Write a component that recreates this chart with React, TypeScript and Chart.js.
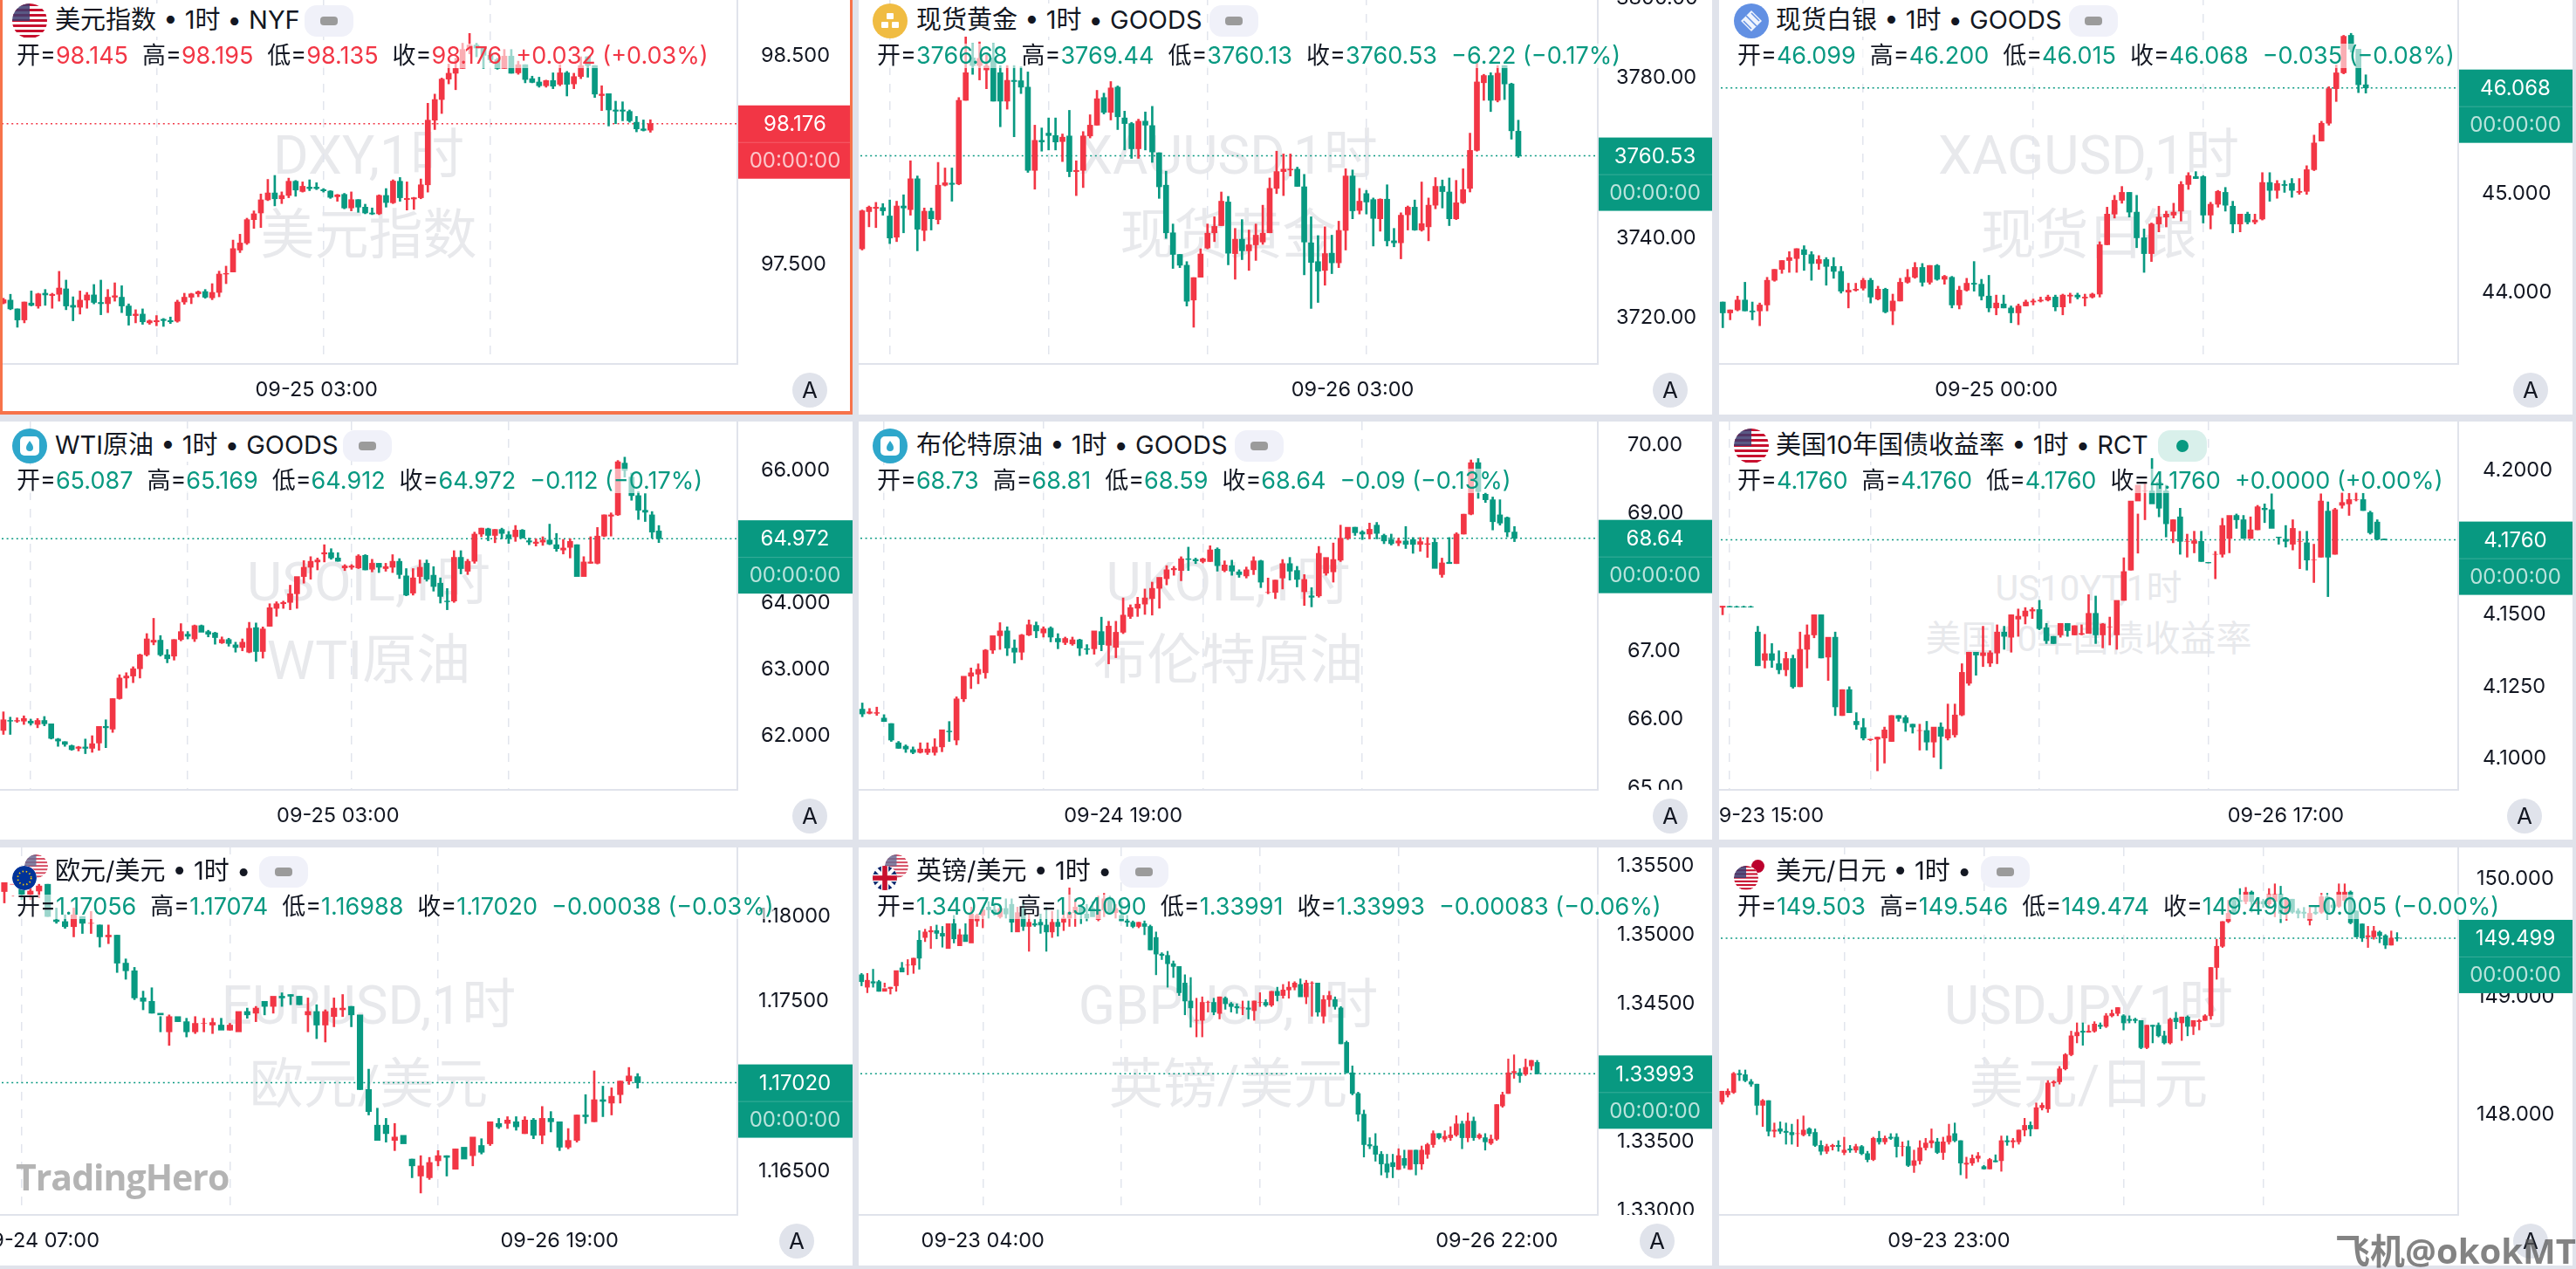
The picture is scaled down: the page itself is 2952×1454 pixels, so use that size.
import { useEffect, useRef } from 'react';
import { Chart, registerables } from 'chart.js';
Chart.register(...registerables);

// [open, high, low, close]
const dxyCandles = [[97.316,97.339,97.312,97.332],[97.330,97.358,97.284,97.288],[97.288,97.288,97.200,97.235],[97.235,97.321,97.221,97.321],[97.316,97.374,97.302,97.305],[97.302,97.363,97.291,97.360],[97.363,97.381,97.305,97.355],[97.352,97.363,97.291,97.358],[97.358,97.468,97.325,97.388],[97.384,97.426,97.284,97.302],[97.305,97.346,97.231,97.296],[97.296,97.374,97.263,97.330],[97.330,97.367,97.291,97.355],[97.355,97.405,97.312,97.319],[97.319,97.426,97.260,97.313],[97.313,97.381,97.270,97.344],[97.344,97.413,97.325,97.351],[97.344,97.399,97.270,97.302],[97.302,97.312,97.210,97.256],[97.256,97.284,97.221,97.263],[97.263,97.288,97.214,97.226],[97.221,97.235,97.214,97.231],[97.226,97.256,97.207,97.232],[97.238,97.242,97.204,97.232],[97.232,97.249,97.218,97.226],[97.229,97.330,97.224,97.321],[97.321,97.363,97.310,97.344],[97.344,97.363,97.313,97.360],[97.360,97.374,97.346,97.370],[97.371,97.381,97.339,97.344],[97.341,97.409,97.332,97.367],[97.367,97.469,97.346,97.455],[97.455,97.493,97.409,97.458],[97.465,97.618,97.465,97.577],[97.570,97.646,97.558,97.604],[97.604,97.723,97.597,97.716],[97.716,97.758,97.674,97.744],[97.748,97.839,97.678,97.811],[97.811,97.909,97.807,97.844],[97.844,97.928,97.782,97.816],[97.816,97.849,97.793,97.832],[97.832,97.915,97.821,97.900],[97.900,97.904,97.828,97.858],[97.851,97.897,97.848,97.876],[97.872,97.907,97.855,97.865],[97.872,97.893,97.860,97.865],[97.860,97.865,97.848,97.854],[97.853,97.855,97.818,97.823],[97.826,97.837,97.804,97.835],[97.837,97.842,97.768,97.772],[97.772,97.849,97.758,97.812],[97.812,97.812,97.751,97.776],[97.776,97.790,97.744,97.748],[97.748,97.772,97.740,97.743],[97.744,97.835,97.740,97.832],[97.832,97.865,97.776,97.798],[97.797,97.907,97.793,97.901],[97.900,97.918,97.804,97.821],[97.812,97.897,97.762,97.818],[97.815,97.823,97.765,97.821],[97.821,97.911,97.816,97.883],[97.883,98.274,97.848,98.193],[98.193,98.318,98.148,98.292],[98.292,98.395,98.225,98.390],[98.390,98.462,98.367,98.418],[98.418,98.490,98.339,98.441],[98.441,98.560,98.441,98.532],[98.532,98.609,98.511,98.553],[98.553,98.560,98.497,98.539],[98.539,98.546,98.441,98.504],[98.504,98.525,98.469,98.483],[98.483,98.490,98.437,98.441],[98.441,98.532,98.441,98.500],[98.500,98.532,98.418,98.418],[98.420,98.476,98.413,98.459],[98.459,98.459,98.372,98.388],[98.392,98.404,98.372,98.374],[98.376,98.399,98.351,98.358],[98.358,98.385,98.351,98.383],[98.383,98.420,98.344,98.356],[98.365,98.459,98.358,98.420],[98.420,98.427,98.309,98.365],[98.367,98.418,98.344,98.402],[98.402,98.497,98.392,98.455],[98.497,98.497,98.399,98.455],[98.455,98.455,98.302,98.318],[98.311,98.358,98.239,98.318],[98.320,98.320,98.165,98.242],[98.242,98.284,98.176,98.236],[98.242,98.281,98.190,98.236],[98.235,98.242,98.183,98.190],[98.183,98.211,98.137,98.151],[98.151,98.194,98.141,98.144],[98.145,98.195,98.135,98.176]];

const goldCandles = [[3737.3,3747,3737,3746.8],[3746.6,3748,3742.8,3747.7],[3747.4,3748.9,3742.6,3747.7],[3747.6,3748.6,3745.7,3746.8],[3745.5,3749.5,3738.6,3740],[3740.2,3749.2,3739.1,3748],[3748,3750.8,3741.3,3747.5],[3747.1,3759.3,3745.7,3754.8],[3754.8,3755.5,3736.8,3742.2],[3741.9,3747.5,3739.3,3746.7],[3746.7,3747.5,3742,3744.8],[3744.6,3758.9,3743.5,3753.2],[3753.2,3757.5,3753,3753.8],[3753.7,3757.5,3749.2,3753.4],[3753.5,3775.1,3753.3,3774.4],[3774.4,3791.1,3774.4,3781.3],[3785,3788.6,3780.9,3783.1],[3783.1,3789,3779.5,3784.9],[3782,3785.7,3777.3,3783],[3785,3788.6,3774.2,3774.2],[3781.3,3783.1,3767.8,3774.2],[3774.2,3783.1,3772.2,3779.4],[3779.4,3783.1,3765.3,3779.1],[3779.3,3782.8,3776.1,3777.7],[3777.7,3781.5,3756.4,3756.9],[3756.9,3768.2,3752.2,3764.4],[3764.4,3767.5,3761.7,3764],[3766.2,3770,3762,3765.6],[3765.6,3770,3762,3764],[3764.1,3766,3759.1,3765.2],[3765.5,3771.9,3755.3,3756.6],[3756.6,3759.3,3750.6,3756.9],[3756.9,3766.6,3752.6,3765.5],[3765.5,3770.8,3765,3768.2],[3768.2,3776.9,3768.2,3774.8],[3775.1,3776.2,3771,3771.4],[3771.4,3779.1,3769.5,3777.5],[3777.7,3778,3767.1,3770.3],[3770,3771.7,3762,3768.6],[3768.6,3768.9,3759.9,3762.3],[3762.3,3769.7,3759.9,3769.2],[3769.2,3771.5,3762,3768.2],[3768.1,3772.9,3758.9,3761.5],[3761.3,3761.3,3749.9,3752.8],[3753.2,3756.7,3739.9,3741.3],[3741.3,3743.5,3732.4,3735.9],[3735.9,3735.9,3732.6,3733.2],[3733.2,3734.1,3723,3724.2],[3724.5,3730.1,3717.7,3730.1],[3730.2,3737.3,3730.2,3736],[3737.5,3743.5,3737.3,3741.2],[3741.3,3745.3,3739.1,3742.9],[3743.1,3751.5,3743.1,3749.2],[3749,3750.4,3733.3,3736.2],[3736.1,3742.4,3729.7,3739.7],[3739.7,3744.6,3734.6,3736.8],[3736.8,3742,3731.9,3738.3],[3738.3,3743.5,3734.4,3740.7],[3739,3748.2,3738.4,3741.2],[3741.3,3755,3741.3,3752.4],[3752.4,3761.7,3751.1,3756.6],[3756.6,3761,3750.6,3757.2],[3757,3761,3755.5,3757.2],[3757.2,3757.7,3752.9,3752.9],[3752.8,3755.9,3730.8,3739],[3738.8,3745.3,3722.4,3733.9],[3734.1,3740.6,3723.9,3731.7],[3731.9,3742.8,3728.2,3736.1],[3736.2,3740.7,3731.1,3733.8],[3733.8,3744.2,3732.6,3741.9],[3741.9,3757.3,3737,3755.5],[3755.5,3757,3744.8,3746.8],[3746.9,3752.4,3746,3749.2],[3751.1,3751.9,3746,3749],[3749.6,3750,3738,3744.9],[3744.8,3749.8,3741.7,3749.7],[3749.7,3753.3,3738,3739.3],[3739.3,3742.4,3737.8,3738.8],[3738.8,3746.3,3734.8,3745.7],[3745.8,3748,3742,3747.7],[3747.7,3749.5,3741.9,3742],[3742,3754,3741.7,3743.6],[3742.8,3750,3739.3,3748.2],[3748.2,3755.1,3747.3,3752.9],[3752.9,3754.5,3747.5,3751.6],[3751.5,3755,3743.1,3744.8],[3744.8,3754.4,3744.6,3748.8],[3748.8,3757.3,3748.6,3752.1],[3752.4,3766.2,3751.5,3761.9],[3761.9,3783.8,3761.7,3779],[3778.8,3780.9,3774.4,3780.6],[3780.6,3781.3,3771.6,3774.4],[3774.4,3783.1,3774,3781.2],[3783.1,3783.1,3774.6,3778.5],[3778.5,3778.7,3764.7,3766.8],[3766.68,3769.44,3760.13,3760.53]];

const silverCandles = [[43.90,43.90,43.64,43.79],[43.79,43.82,43.72,43.82],[43.82,43.96,43.81,43.92],[43.92,44.10,43.81,43.81],[43.81,43.90,43.72,43.80],[43.81,43.89,43.66,43.87],[43.87,44.15,43.81,44.12],[44.12,44.23,44.11,44.23],[44.23,44.32,44.19,44.32],[44.32,44.41,44.20,44.35],[44.34,44.44,44.20,44.44],[44.43,44.47,44.22,44.38],[44.38,44.41,44.12,44.29],[44.29,44.37,44.23,44.33],[44.33,44.35,44.07,44.26],[44.26,44.35,44.14,44.21],[44.21,44.26,43.99,44.01],[44.00,44.09,43.84,44.02],[44.02,44.09,44.01,44.03],[44.04,44.14,44.02,44.12],[44.12,44.14,43.89,43.95],[43.93,44.06,43.92,44.03],[44.03,44.04,43.79,43.80],[43.81,43.98,43.67,43.91],[43.91,44.14,43.91,44.10],[44.10,44.23,44.09,44.15],[44.15,44.30,44.14,44.25],[44.25,44.29,44.06,44.10],[44.10,44.27,44.08,44.27],[44.27,44.28,44.12,44.13],[44.13,44.17,44.08,44.16],[44.15,44.16,43.84,43.87],[43.87,44.06,43.83,44.02],[44.02,44.14,44.01,44.09],[44.09,44.31,44.01,44.08],[44.08,44.13,43.92,43.96],[43.96,44.17,43.80,43.84],[43.84,43.97,43.77,43.89],[43.88,43.97,43.84,43.84],[43.84,43.86,43.69,43.79],[43.79,43.88,43.67,43.86],[43.86,43.92,43.86,43.90],[43.90,43.93,43.87,43.91],[43.91,43.95,43.90,43.92],[43.92,43.97,43.91,43.95],[43.95,43.97,43.81,43.85],[43.85,43.98,43.77,43.97],[43.96,43.99,43.89,43.97],[43.97,43.99,43.93,43.95],[43.94,43.98,43.86,43.95],[43.95,43.99,43.94,43.98],[43.98,44.51,43.95,44.48],[44.48,44.86,44.48,44.79],[44.79,44.98,44.75,44.93],[44.93,45.07,44.90,45.01],[45.01,45.01,44.76,44.81],[44.81,44.98,44.45,44.55],[44.55,44.64,44.20,44.39],[44.39,44.70,44.31,44.69],[44.69,44.87,44.61,44.76],[44.76,44.82,44.66,44.79],[44.78,44.90,44.75,44.81],[44.82,45.12,44.72,45.09],[45.09,45.21,45.04,45.18],[45.17,45.22,45.15,45.15],[45.17,45.18,44.70,44.78],[44.78,44.91,44.64,44.89],[44.89,45.03,44.86,45.02],[45.01,45.06,44.82,44.88],[44.87,44.92,44.60,44.69],[44.69,44.79,44.61,44.79],[44.79,44.81,44.69,44.71],[44.71,44.79,44.69,44.73],[44.74,45.21,44.73,45.11],[45.11,45.21,44.92,45.03],[45.03,45.13,44.95,45.10],[45.09,45.13,45.01,45.08],[45.10,45.15,44.96,45.03],[45.01,45.15,44.99,45.02],[45.02,45.28,44.99,45.24],[45.24,45.59,45.23,45.51],[45.53,45.73,45.53,45.71],[45.71,46.08,45.69,46.06],[46.06,46.30,45.93,46.22],[46.22,46.60,46.21,46.59],[46.60,46.62,46.43,46.46],[46.46,46.46,46.02,46.10],[46.099,46.200,46.015,46.068]];

const wtiCandles = [[62.08,62.36,62.02,62.24],[62.23,62.28,62.02,62.22],[62.22,62.27,62.20,62.23],[62.22,62.30,62.17,62.26],[62.22,62.25,62.16,62.19],[62.17,62.26,62.12,62.23],[62.23,62.29,62.15,62.18],[62.18,62.18,61.95,61.96],[61.95,61.96,61.84,61.92],[61.91,61.91,61.84,61.87],[61.85,61.86,61.78,61.79],[61.81,61.84,61.77,61.83],[61.83,61.95,61.73,61.81],[61.81,62.00,61.75,61.88],[61.89,62.12,61.78,62.14],[62.14,62.24,61.82,62.12],[62.10,62.56,62.05,62.56],[62.56,62.92,62.55,62.87],[62.87,62.95,62.72,62.90],[62.90,63.04,62.80,63.01],[63.01,63.23,62.87,63.22],[63.22,63.54,63.20,63.46],[63.41,63.77,63.37,63.44],[63.44,63.51,63.20,63.22],[63.22,63.30,63.10,63.16],[63.20,63.45,63.14,63.45],[63.45,63.69,63.43,63.57],[63.53,63.57,63.46,63.50],[63.46,63.67,63.42,63.66],[63.66,63.67,63.60,63.56],[63.57,63.59,63.49,63.53],[63.55,63.56,63.38,63.48],[63.40,63.49,63.39,63.45],[63.45,63.47,63.35,63.39],[63.37,63.41,63.26,63.33],[63.33,63.46,63.28,63.41],[63.26,63.71,63.25,63.62],[63.63,63.70,63.12,63.27],[63.27,63.64,63.17,63.61],[63.65,63.99,63.65,63.93],[63.92,64.02,63.80,63.99],[63.99,64.03,63.92,64.01],[64.01,64.27,63.90,64.14],[64.14,64.32,63.92,64.40],[64.40,64.64,64.30,64.54],[64.54,64.70,64.36,64.63],[64.62,64.68,64.50,64.65],[64.74,64.88,64.62,64.76],[64.76,64.82,64.66,64.68],[64.68,64.76,64.63,64.63],[64.53,64.58,64.49,64.56],[64.54,64.58,64.51,64.56],[64.53,64.73,64.52,64.71],[64.72,64.73,64.50,64.50],[64.51,64.66,64.47,64.60],[64.60,64.60,64.46,64.54],[64.52,64.60,64.48,64.55],[64.54,64.73,64.46,64.63],[64.63,64.67,64.37,64.43],[64.41,64.52,64.11,64.12],[64.15,64.52,64.12,64.38],[64.40,64.65,64.30,64.54],[64.60,64.65,64.33,64.36],[64.42,64.55,64.18,64.25],[64.30,64.38,64.00,64.10],[64.03,64.22,63.90,64.02],[64.03,64.79,64.01,64.69],[64.69,64.79,64.44,64.52],[64.48,64.66,64.43,64.63],[64.63,65.07,64.60,65.04],[65.04,65.13,65.00,65.13],[65.12,65.13,64.94,65.02],[65.02,65.11,64.91,65.11],[65.11,65.13,64.97,65.05],[65.03,65.08,64.90,64.98],[65.00,65.17,64.93,65.10],[65.10,65.11,64.99,64.98],[64.94,64.98,64.88,64.92],[64.90,64.97,64.86,64.92],[64.92,65.00,64.87,64.95],[64.95,65.19,64.88,64.89],[64.88,65.05,64.78,64.82],[64.80,64.96,64.74,64.83],[64.84,64.97,64.68,64.93],[64.88,64.88,64.52,64.40],[64.40,64.70,64.41,64.62],[64.60,65.00,64.60,64.62],[64.60,65.14,64.59,65.01],[65.01,65.33,65.00,65.33],[65.31,65.36,65.01,65.33],[65.33,66.15,65.32,66.13],[66.11,66.20,65.90,66.00],[65.90,65.96,65.55,65.62],[65.62,65.68,65.26,65.40],[65.40,65.65,65.23,65.37],[65.33,65.38,64.98,65.07],[65.087,65.169,64.912,64.972]];

const brentCandles = [[66.15,66.24,66.04,66.08],[66.09,66.16,66.08,66.11],[66.09,66.18,66.06,66.10],[66.02,66.07,65.97,65.97],[65.94,65.94,65.68,65.70],[65.66,65.68,65.58,65.58],[65.61,65.63,65.52,65.57],[65.56,65.60,65.50,65.52],[65.52,65.66,65.51,65.57],[65.52,65.66,65.49,65.57],[65.52,65.72,65.48,65.60],[65.60,65.84,65.53,65.85],[65.83,65.97,65.68,65.82],[65.70,66.33,65.63,66.30],[66.30,66.55,66.26,66.63],[66.63,66.75,66.45,66.68],[66.66,66.81,66.52,66.73],[66.68,67.02,66.60,67.01],[67.01,67.21,66.96,67.22],[67.22,67.41,67.02,67.29],[67.29,67.35,66.93,67.04],[67.04,67.16,66.82,66.98],[66.98,67.24,66.87,67.23],[67.23,67.45,67.22,67.38],[67.37,67.42,67.19,67.29],[67.26,67.35,67.20,67.32],[67.33,67.35,67.13,67.20],[67.18,67.25,67.03,67.13],[67.12,67.20,67.09,67.18],[67.10,67.20,67.08,67.16],[67.16,67.17,66.93,67.04],[67.03,67.09,66.95,67.02],[67.03,67.23,66.95,67.29],[67.28,67.49,67.00,67.09],[67.08,67.43,66.81,67.36],[67.05,67.43,66.90,67.27],[67.27,67.77,67.25,67.52],[67.50,67.67,67.47,67.63],[67.62,67.78,67.50,67.68],[67.68,67.90,67.53,67.77],[67.76,68.00,67.52,67.91],[67.91,68.05,67.62,68.07],[68.05,68.24,67.96,68.18],[68.18,68.23,68.10,68.20],[68.17,68.37,68.02,68.34],[68.34,68.51,68.17,68.33],[68.33,68.35,68.27,68.31],[68.30,68.35,68.28,68.34],[68.30,68.53,68.30,68.47],[68.48,68.50,68.16,68.24],[68.17,68.31,68.15,68.25],[68.24,68.32,68.10,68.16],[68.15,68.18,68.07,68.11],[68.09,68.22,68.06,68.18],[68.18,68.37,68.11,68.31],[68.31,68.32,67.92,68.00],[67.85,68.06,67.83,67.85],[67.85,68.03,67.76,68.03],[68.06,68.33,67.90,68.27],[68.27,68.36,68.03,68.16],[68.17,68.23,67.93,68.04],[67.86,68.11,67.66,68.04],[67.80,67.92,67.64,67.78],[67.80,68.52,67.78,68.42],[68.13,68.34,68.10,68.36],[68.15,68.57,68.00,68.33],[68.32,68.83,68.30,68.64],[68.64,68.78,68.62,68.80],[68.80,68.80,68.68,68.72],[68.73,68.75,68.62,68.70],[68.70,68.86,68.63,68.77],[68.83,68.87,68.63,68.71],[68.68,68.70,68.56,68.60],[68.62,68.70,68.54,68.56],[68.57,68.64,68.53,68.60],[68.60,68.81,68.49,68.55],[68.62,68.65,68.42,68.55],[68.55,68.65,68.45,68.59],[68.55,68.65,68.36,68.56],[68.58,68.64,68.22,68.20],[68.11,68.35,68.07,68.28],[68.29,68.65,68.29,68.27],[68.27,68.72,68.27,68.70],[68.70,68.99,68.70,68.99],[68.99,69.78,68.98,69.74],[69.74,69.80,69.22,69.32],[69.28,69.30,69.16,69.20],[69.20,69.24,68.76,68.88],[68.98,69.20,68.83,68.86],[68.94,68.95,68.66,68.73],[68.73,68.81,68.59,68.64]];

const us10yCandles = [[4.1526,4.1530,4.1500,4.1530],[4.1529,4.1530,4.1528,4.1527],[4.1528,4.1530,4.1526,4.1527],[4.1528,4.1530,4.1526,4.1527],[4.1528,4.1530,4.1526,4.1527],[4.1440,4.1460,4.1323,4.1323],[4.1342,4.1432,4.1315,4.1365],[4.1365,4.1400,4.1317,4.1342],[4.1330,4.1375,4.1295,4.1309],[4.1309,4.1370,4.1288,4.1348],[4.1348,4.1360,4.1245,4.1250],[4.1250,4.1440,4.1250,4.1380],[4.1380,4.1465,4.1315,4.1430],[4.1430,4.1500,4.1420,4.1500],[4.1500,4.1500,4.1350,4.1350],[4.1353,4.1420,4.1272,4.1422],[4.1422,4.1440,4.1150,4.1180],[4.1150,4.1240,4.1150,4.1240],[4.1240,4.1250,4.1160,4.1160],[4.1130,4.1160,4.1102,4.1118],[4.1108,4.1140,4.1065,4.1072],[4.1066,4.1068,4.1063,4.1068],[4.1068,4.1075,4.0958,4.1075],[4.1072,4.1110,4.0985,4.1100],[4.1060,4.1150,4.1060,4.1150],[4.1150,4.1150,4.1130,4.1140],[4.1143,4.1150,4.1095,4.1125],[4.1120,4.1120,4.1089,4.1110],[4.1098,4.1120,4.1030,4.1098],[4.1098,4.1130,4.1030,4.1058],[4.1058,4.1090,4.1005,4.1110],[4.1110,4.1125,4.0965,4.1078],[4.1072,4.1190,4.1065,4.1102],[4.1083,4.1190,4.1075,4.1152],[4.1152,4.1330,4.1149,4.1300],[4.1262,4.1370,4.1255,4.1370],[4.1370,4.1360,4.1290,4.1360],[4.1358,4.1460,4.1320,4.1368],[4.1332,4.1375,4.1320,4.1368],[4.1367,4.1465,4.1330,4.1440],[4.1440,4.1460,4.1380,4.1425],[4.1422,4.1500,4.1370,4.1500],[4.1485,4.1520,4.1425,4.1495],[4.1495,4.1525,4.1468,4.1513],[4.1513,4.1525,4.1487,4.1518],[4.1518,4.1550,4.1448,4.1452],[4.1455,4.1470,4.1400,4.1410],[4.1425,4.1425,4.1400,4.1400],[4.1430,4.1470,4.1422,4.1470],[4.1470,4.1470,4.1425,4.1445],[4.1430,4.1462,4.1430,4.1462],[4.1432,4.1465,4.1430,4.1435],[4.1435,4.1570,4.1440,4.1505],[4.1505,4.1565,4.1400,4.1430],[4.1430,4.1470,4.1385,4.1468],[4.1458,4.1492,4.1395,4.1458],[4.1430,4.1492,4.1380,4.1550],[4.1550,4.1698,4.1550,4.1650],[4.1655,4.1700,4.1655,4.1895],[4.1895,4.1850,4.1714,4.1950],[4.1930,4.1960,4.1830,4.1930],[4.1930,4.2043,4.1900,4.1885],[4.1960,4.1970,4.1840,4.1870],[4.1930,4.1950,4.1770,4.1816],[4.1790,4.1830,4.1750,4.1830],[4.1840,4.1870,4.1710,4.1755],[4.1755,4.1780,4.1700,4.1755],[4.1748,4.1790,4.1715,4.1757],[4.1755,4.1790,4.1685,4.1685],[4.1682,4.1680,4.1680,4.1680],[4.1710,4.1720,4.1625,4.1710],[4.1710,4.1835,4.1700,4.1810],[4.1765,4.1840,4.1715,4.1845],[4.1845,4.1850,4.1800,4.1830],[4.1830,4.1845,4.1765,4.1765],[4.1765,4.1840,4.1765,4.1795],[4.1795,4.1880,4.1795,4.1875],[4.1870,4.1885,4.1820,4.1865],[4.1865,4.1920,4.1830,4.1800],[4.1770,4.1770,4.1745,4.1768],[4.1762,4.1810,4.1735,4.1755],[4.1745,4.1830,4.1725,4.1800],[4.1755,4.1790,4.1660,4.1755],[4.1750,4.1790,4.1655,4.1690],[4.1690,4.1745,4.1612,4.1690],[4.1700,4.1920,4.1700,4.1895],[4.1860,4.1892,4.1563,4.1700],[4.1710,4.1870,4.1710,4.1865],[4.1880,4.1925,4.1870,4.1890],[4.1885,4.1922,4.1845,4.1900],[4.1900,4.1925,4.1895,4.1900],[4.1900,4.1922,4.1862,4.1862],[4.1855,4.1860,4.1780,4.1785],[4.1822,4.1830,4.1760,4.1762],[4.1763,4.1763,4.1760,4.1760]];

const eurCandles = [[1.18147,1.18190,1.18080,1.18200],[1.18190,1.18120,1.18120,1.18190],[1.18180,1.18200,1.18100,1.18130],[1.18130,1.18220,1.18100,1.18150],[1.18150,1.18190,1.18110,1.18180],[1.18190,1.18190,1.18000,1.18000],[1.17980,1.18050,1.17960,1.17970],[1.17970,1.18010,1.17930,1.17940],[1.17940,1.18050,1.17880,1.18010],[1.18000,1.18000,1.17900,1.17960],[1.17960,1.18030,1.17900,1.17960],[1.17950,1.17950,1.17820,1.17880],[1.17880,1.17950,1.17840,1.17890],[1.17890,1.17890,1.17670,1.17725],[1.17725,1.17750,1.17630,1.17680],[1.17680,1.17700,1.17510,1.17520],[1.17520,1.17560,1.17450,1.17500],[1.17500,1.17580,1.17430,1.17430],[1.17430,1.17410,1.17320,1.17420],[1.17320,1.17420,1.17240,1.17410],[1.17410,1.17390,1.17380,1.17380],[1.17380,1.17400,1.17290,1.17320],[1.17320,1.17410,1.17310,1.17370],[1.17370,1.17400,1.17320,1.17370],[1.17360,1.17400,1.17310,1.17375],[1.17360,1.17400,1.17340,1.17330],[1.17330,1.17370,1.17330,1.17360],[1.17320,1.17400,1.17360,1.17440],[1.17440,1.17460,1.17400,1.17420],[1.17430,1.17470,1.17380,1.17460],[1.17500,1.17490,1.17420,1.17470],[1.17470,1.17510,1.17430,1.17530],[1.17530,1.17550,1.17470,1.17520],[1.17540,1.17540,1.17480,1.17530],[1.17530,1.17530,1.17480,1.17480],[1.17420,1.17520,1.17320,1.17440],[1.17440,1.17480,1.17280,1.17360],[1.17360,1.17450,1.17260,1.17440],[1.17410,1.17520,1.17350,1.17460],[1.17450,1.17540,1.17410,1.17460],[1.17470,1.17470,1.17350,1.17420],[1.17420,1.17340,1.16980,1.16980],[1.16980,1.17100,1.16830,1.16850],[1.16770,1.16870,1.16700,1.16680],[1.16770,1.16810,1.16670,1.16720],[1.16680,1.16780,1.16620,1.16700],[1.16710,1.16700,1.16700,1.16660],[1.16570,1.16570,1.16460,1.16530],[1.16470,1.16590,1.16370,1.16530],[1.16460,1.16580,1.16450,1.16550],[1.16560,1.16620,1.16530,1.16590],[1.16590,1.16590,1.16470,1.16580],[1.16510,1.16630,1.16510,1.16630],[1.16640,1.16610,1.16590,1.16570],[1.16590,1.16680,1.16530,1.16700],[1.16650,1.16690,1.16600,1.16610],[1.16660,1.16790,1.16650,1.16790],[1.16780,1.16810,1.16750,1.16760],[1.16780,1.16820,1.16750,1.16800],[1.16790,1.16820,1.16740,1.16760],[1.16720,1.16820,1.16720,1.16800],[1.16800,1.16810,1.16690,1.16710],[1.16710,1.16880,1.16660,1.16810],[1.16810,1.16850,1.16730,1.16790],[1.16790,1.16780,1.16620,1.16640],[1.16640,1.16750,1.16630,1.16680],[1.16680,1.16830,1.16670,1.16830],[1.16830,1.16950,1.16780,1.16820],[1.16790,1.17090,1.16790,1.16920],[1.16920,1.17000,1.16820,1.16910],[1.16900,1.16990,1.16830,1.16940],[1.16950,1.17030,1.16900,1.17030],[1.17030,1.17110,1.17010,1.17060],[1.17056,1.17074,1.16988,1.17020]];

const gbpCandles = [[1.34710,1.34720,1.34630,1.34660],[1.34620,1.34720,1.34580,1.34670],[1.34660,1.34750,1.34620,1.34650],[1.34660,1.34670,1.34590,1.34590],[1.34590,1.34650,1.34620,1.34610],[1.34610,1.34620,1.34570,1.34620],[1.34630,1.34730,1.34590,1.34740],[1.34760,1.34800,1.34740,1.34730],[1.34780,1.34820,1.34710,1.34780],[1.34780,1.34830,1.34720,1.34830],[1.34960,1.35030,1.34750,1.34830],[1.34980,1.35040,1.34950,1.35020],[1.35020,1.35060,1.34900,1.35030],[1.35030,1.35070,1.34970,1.35010],[1.35010,1.35060,1.34910,1.34990],[1.34900,1.35080,1.34910,1.35080],[1.35080,1.35140,1.34940,1.34970],[1.34920,1.35040,1.34930,1.35000],[1.35000,1.35080,1.34970,1.34950],[1.34940,1.35200,1.34950,1.35150],[1.35100,1.35150,1.35060,1.35140],[1.35140,1.35200,1.35050,1.35180],[1.35200,1.35240,1.35120,1.35180],[1.35180,1.35230,1.35140,1.35160],[1.35130,1.35200,1.35120,1.35190],[1.35190,1.35260,1.35120,1.35150],[1.35220,1.35260,1.35020,1.35090],[1.35020,1.35200,1.35060,1.35160],[1.35190,1.35240,1.35030,1.35060],[1.35060,1.35150,1.34880,1.35090],[1.35080,1.35110,1.35060,1.35070],[1.35090,1.35150,1.35010,1.35070],[1.35070,1.35200,1.34880,1.35020],[1.35020,1.35170,1.34980,1.35090],[1.35090,1.35180,1.34990,1.35060],[1.35090,1.35170,1.35030,1.35120],[1.35120,1.35350,1.35060,1.35160],[1.35160,1.35260,1.35060,1.35200],[1.35200,1.35220,1.35080,1.35150],[1.35150,1.35220,1.35100,1.35120],[1.35190,1.35240,1.35140,1.35130],[1.35110,1.35280,1.35100,1.35180],[1.35180,1.35300,1.35130,1.35260],[1.35260,1.35280,1.35150,1.35160],[1.35160,1.35220,1.35120,1.35190],[1.35140,1.35240,1.35120,1.35100],[1.35100,1.35140,1.35060,1.35090],[1.35090,1.35100,1.35050,1.35060],[1.35060,1.35090,1.35050,1.35090],[1.35080,1.35100,1.35000,1.35060],[1.35060,1.35070,1.34890,1.34890],[1.34980,1.35020,1.34710,1.34860],[1.34860,1.34870,1.34820,1.34850],[1.34850,1.34880,1.34620,1.34790],[1.34790,1.34810,1.34690,1.34770],[1.34770,1.34720,1.34560,1.34580],[1.34650,1.34710,1.34420,1.34520],[1.34520,1.34690,1.34330,1.34470],[1.34380,1.34540,1.34260,1.34380],[1.34380,1.34550,1.34260,1.34510],[1.34510,1.34520,1.34440,1.34510],[1.34510,1.34540,1.34420,1.34440],[1.34430,1.34550,1.34390,1.34550],[1.34540,1.34550,1.34460,1.34500],[1.34500,1.34510,1.34440,1.34480],[1.34480,1.34500,1.34430,1.34470],[1.34470,1.34520,1.34420,1.34470],[1.34470,1.34520,1.34390,1.34460],[1.34450,1.34520,1.34380,1.34520],[1.34510,1.34580,1.34480,1.34510],[1.34510,1.34530,1.34480,1.34490],[1.34490,1.34590,1.34480,1.34590],[1.34590,1.34620,1.34520,1.34560],[1.34560,1.34640,1.34540,1.34600],[1.34600,1.34660,1.34540,1.34620],[1.34620,1.34660,1.34600,1.34650],[1.34640,1.34680,1.34590,1.34550],[1.34550,1.34670,1.34500,1.34650],[1.34650,1.34660,1.34410,1.34650],[1.34650,1.34640,1.34410,1.34440],[1.34410,1.34560,1.34360,1.34530],[1.34530,1.34590,1.34480,1.34560],[1.34530,1.34550,1.34460,1.34480],[1.34470,1.34480,1.34210,1.34210],[1.34220,1.34230,1.34000,1.34000],[1.34000,1.34050,1.33840,1.33850],[1.33850,1.33860,1.33650,1.33700],[1.33700,1.33730,1.33390,1.33480],[1.33480,1.33530,1.33450,1.33470],[1.33470,1.33560,1.33360,1.33410],[1.33410,1.33430,1.33260,1.33340],[1.33340,1.33410,1.33240,1.33280],[1.33350,1.33410,1.33240,1.33320],[1.33300,1.33450,1.33300,1.33400],[1.33380,1.33440,1.33310,1.33330],[1.33300,1.33430,1.33300,1.33440],[1.33440,1.33440,1.33260,1.33340],[1.33340,1.33470,1.33300,1.33440],[1.33410,1.33490,1.33380,1.33480],[1.33480,1.33580,1.33460,1.33560],[1.33560,1.33560,1.33520,1.33530],[1.33520,1.33580,1.33500,1.33540],[1.33530,1.33610,1.33510,1.33550],[1.33550,1.33690,1.33540,1.33630],[1.33630,1.33650,1.33450,1.33530],[1.33530,1.33710,1.33500,1.33650],[1.33650,1.33680,1.33510,1.33530],[1.33530,1.33560,1.33520,1.33550],[1.33530,1.33560,1.33440,1.33500],[1.33490,1.33550,1.33480,1.33520],[1.33520,1.33770,1.33510,1.33770],[1.33760,1.33860,1.33750,1.33840],[1.33850,1.34100,1.33850,1.34000],[1.34000,1.34130,1.33960,1.34010],[1.34000,1.34030,1.33930,1.33980],[1.33990,1.34100,1.33980,1.34040],[1.34050,1.34090,1.34020,1.34090],[1.34075,1.34090,1.33991,1.33993]];

const jpyCandles = [[148.11,148.20,148.09,148.20],[148.17,148.22,148.15,148.20],[148.19,148.36,148.18,148.35],[148.35,148.38,148.29,148.34],[148.34,148.38,148.28,148.29],[148.28,148.30,148.24,148.26],[148.26,148.26,148.00,148.08],[148.08,148.13,147.90,148.12],[148.12,148.12,147.82,147.86],[147.86,147.93,147.81,147.87],[147.88,147.94,147.84,147.86],[147.86,147.93,147.75,147.85],[147.85,147.92,147.75,147.83],[147.84,147.96,147.73,147.84],[147.83,147.99,147.82,147.87],[147.88,147.89,147.82,147.84],[147.85,147.88,147.73,147.74],[147.74,147.78,147.66,147.69],[147.69,147.75,147.67,147.73],[147.73,147.75,147.70,147.74],[147.74,147.78,147.69,147.73],[147.68,147.81,147.66,147.70],[147.71,147.74,147.68,147.70],[147.70,147.75,147.68,147.73],[147.73,147.74,147.66,147.67],[147.67,147.69,147.60,147.62],[147.62,147.81,147.61,147.80],[147.80,147.86,147.75,147.77],[147.77,147.82,147.75,147.80],[147.81,147.84,147.79,147.80],[147.81,147.84,147.64,147.73],[147.73,147.77,147.65,147.73],[147.73,147.78,147.56,147.57],[147.57,147.70,147.51,147.61],[147.61,147.78,147.58,147.72],[147.72,147.80,147.70,147.76],[147.76,147.88,147.72,147.78],[147.77,147.80,147.67,147.68],[147.68,147.81,147.62,147.77],[147.77,147.92,147.75,147.82],[147.84,147.93,147.77,147.78],[147.78,147.78,147.49,147.59],[147.58,147.64,147.46,147.59],[147.59,147.66,147.57,147.63],[147.63,147.68,147.60,147.65],[147.56,147.57,147.54,147.54],[147.54,147.63,147.54,147.62],[147.61,147.66,147.60,147.60],[147.61,147.82,147.52,147.78],[147.78,147.82,147.74,147.77],[147.77,147.80,147.72,147.78],[147.77,147.87,147.75,147.87],[147.87,147.97,147.82,147.91],[147.91,147.94,147.82,147.88],[147.88,148.10,147.88,148.06],[148.06,148.10,148.04,148.08],[148.05,148.29,148.02,148.27],[148.27,148.29,148.24,148.28],[148.28,148.41,148.26,148.39],[148.39,148.52,148.38,148.51],[148.51,148.71,148.50,148.67],[148.67,148.78,148.61,148.70],[148.71,148.78,148.59,148.70],[148.70,148.76,148.70,148.71],[148.71,148.79,148.70,148.77],[148.76,148.78,148.73,148.75],[148.75,148.86,148.74,148.84],[148.84,148.89,148.83,148.86],[148.86,148.91,148.84,148.91],[148.84,148.85,148.72,148.78],[148.81,148.84,148.78,148.80],[148.81,148.82,148.78,148.80],[148.80,148.80,148.56,148.57],[148.57,148.76,148.56,148.76],[148.76,148.76,148.61,148.75],[148.76,148.78,148.66,148.67],[148.67,148.71,148.60,148.61],[148.61,148.82,148.60,148.81],[148.82,148.87,148.73,148.79],[148.78,148.83,148.63,148.83],[148.83,148.84,148.67,148.75],[148.75,148.80,148.68,148.80],[148.79,148.81,148.72,148.80],[148.80,148.85,148.80,148.84],[148.84,149.25,148.81,149.25],[149.25,149.49,149.15,149.43],[149.43,149.64,149.42,149.64],[149.64,149.82,149.63,149.71],[149.82,149.84,149.70,149.71],[149.82,149.92,149.81,149.81],[149.81,149.93,149.79,149.89],[149.89,149.90,149.72,149.81],[149.79,149.82,149.76,149.81],[149.81,149.83,149.76,149.79],[149.79,149.92,149.76,149.87],[149.81,149.96,149.68,149.87],[149.87,149.94,149.63,149.71],[149.71,149.83,149.65,149.83],[149.83,149.83,149.71,149.72],[149.73,149.75,149.67,149.71],[149.72,149.76,149.67,149.71],[149.65,149.76,149.61,149.71],[149.72,149.77,149.70,149.71],[149.72,149.88,149.71,149.85],[149.85,149.88,149.66,149.72],[149.78,149.81,149.72,149.76],[149.77,149.96,149.76,149.89],[149.82,149.96,149.79,149.89],[149.89,149.90,149.62,149.63],[149.73,149.73,149.51,149.51],[149.62,149.62,149.47,149.50],[149.51,149.60,149.42,149.52],[149.51,149.60,149.49,149.56],[149.55,149.56,149.46,149.52],[149.52,149.53,149.41,149.44],[149.44,149.56,149.44,149.50],[149.503,149.546,149.474,149.499]];

const COLS = [{ x: 0, w: 977, axis: 132 }, { x: 984, w: 978, axis: 131 }, { x: 1970, w: 978, axis: 131 }];
const ROWS = [{ top: -4, bottom: 475, plot: 421 }, { top: 483, bottom: 962, plot: 422 }, { top: 971, bottom: 1450, plot: 421 }];
const UP = '#f23645';
const DOWN = '#089981';
const LINE = '#e0e3eb';
const INK = '#131722';
const FONT = 'Inter, "Noto Sans CJK SC", sans-serif';
const TXT = '"Noto Sans CJK SC"';

const panels: any[] = [
  { c: 0, r: 0, title: '美元指数 • 1时 • NYF', icon: 'us', pill: 349, tag: 0, wm: ['DXY,1时', '美元指数'], wmY: [178, 270], wmSize: 62, vals: ['98.145', '98.195', '98.135', '98.176'], chg: '+0.032 (+0.03%)', up: true, candles: dxyCandles, slots: 106, grid: [22, 46, 70], labels: { 45: '09-25 03:00' }, min: 97.024, max: 98.786, ticks: [98.5, 97.5], digits: 3, pad: 27, bw: 6, ww: 2, badge: [928, 447] },
  { c: 1, r: 0, title: '现货黄金 • 1时 • GOODS', icon: 'gold', pill: 1386, tag: 0, wm: ['XAUUSD,1时', '现货黄金'], wmY: [178, 270], wmSize: 62, vals: ['3766.68', '3769.44', '3760.13', '3760.53'], chg: '−6.22 (−0.17%)', up: false, candles: goldCandles, slots: 107, grid: [4, 27, 50, 73], labels: { 71: '09-26 03:00' }, min: 3708.53, max: 3800.35, ticks: [3800, 3780, 3740, 3720], digits: 2, pad: 21, bw: 6, ww: 2, badge: [1914, 447] },
  { c: 2, r: 0, title: '现货白银 • 1时 • GOODS', icon: 'silver', pill: 2371, tag: 0, wm: ['XAGUSD,1时', '现货白银'], wmY: [178, 270], wmSize: 62, vals: ['46.099', '46.200', '46.015', '46.068'], chg: '−0.035 (−0.08%)', up: false, candles: silverCandles, slots: 100, grid: [19, 42, 65], labels: { 37: '09-25 00:00' }, min: 43.273, max: 46.993, ticks: [45, 44], digits: 3, pad: 27, bw: 6, ww: 2, badge: [2900, 447] },
  { c: 0, r: 1, title: 'WTI原油 • 1时 • GOODS', icon: 'oil', pill: 393, tag: 0, wm: ['USOIL,1时', 'WTI原油'], wmY: [667, 757], wmSize: 62, vals: ['65.087', '65.169', '64.912', '64.972'], chg: '−0.112 (−0.17%)', up: false, candles: wtiCandles, slots: 108, grid: [4, 27, 51, 74], labels: { 49: '09-25 03:00' }, min: 61.184, max: 66.737, ticks: [66, 64, 63, 62], digits: 3, pad: 27, bw: 6, ww: 2, badge: [928, 935] },
  { c: 1, r: 1, title: '布伦特原油 • 1时 • GOODS', icon: 'oil', pill: 1415, tag: 0, wm: ['UKOIL,1时', '布伦特原油'], wmY: [667, 757], wmSize: 62, vals: ['68.73', '68.81', '68.59', '68.64'], chg: '−0.09 (−0.13%)', up: false, candles: brentCandles, slots: 102, grid: [3, 25, 47, 69], labels: { 36: '09-24 19:00' }, min: 64.975, max: 70.339, ticks: [70, 69, 67, 66, 65], digits: 2, pad: 34, bw: 6, ww: 2, badge: [1914, 935] },
  { c: 2, r: 1, title: '美国10年国债收益率 • 1时 • RCT', icon: 'us', pill: 2473, tag: 1, wm: ['US10YT,1时', '美国10年国债收益率'], wmY: [675, 733], wmSize: 41, vals: ['4.1760', '4.1760', '4.1760', '4.1760'], chg: '+0.0000 (+0.00%)', up: false, candles: us10yCandles, slots: 105, grid: [1, 21, 45, 69], labels: { 6: '09-23 15:00', 80: '09-26 17:00' }, min: 4.0892, max: 4.2171, ticks: [4.2, 4.15, 4.125, 4.1], digits: 4, pad: 28, bw: 6, ww: 2, badge: [2893, 935] },
  { c: 0, r: 2, title: '欧元/美元 • 1时 •', icon: 'eur', pill: 297, tag: 0, wm: ['EURUSD,1时', '欧元/美元'], wmY: [1152, 1243], wmSize: 62, vals: ['1.17056', '1.17074', '1.16988', '1.17020'], chg: '−0.00038 (−0.03%)', up: false, candles: eurCandles, slots: 85, grid: [2, 26, 50], labels: { 4: '09-24 07:00', 64: '09-26 19:00' }, min: 1.16241, max: 1.18407, ticks: [1.18, 1.175, 1.165], digits: 5, pad: 24, bw: 6.5, ww: 2, badge: [913, 1422] },
  { c: 1, r: 2, title: '英镑/美元 • 1时 •', icon: 'gbp', pill: 1283, tag: 0, wm: ['GBPUSD,1时', '英镑/美元'], wmY: [1152, 1243], wmSize: 62, vals: ['1.34075', '1.34090', '1.33991', '1.33993'], chg: '−0.00083 (−0.06%)', up: false, candles: gbpCandles, slots: 128, grid: [21, 45, 69, 93], labels: { 21: '09-23 04:00', 110: '09-26 22:00' }, min: 1.32971, max: 1.35632, ticks: [1.355, 1.35, 1.345, 1.335, 1.33], digits: 5, pad: 22, bw: 5, ww: 1.6, badge: [1899, 1422] },
  { c: 2, r: 2, title: '美元/日元 • 1时 •', icon: 'jpy', pill: 2270, tag: 0, wm: ['USDJPY,1时', '美元/日元'], wmY: [1152, 1243], wmSize: 62, vals: ['149.503', '149.546', '149.474', '149.499'], chg: '−0.005 (−0.00%)', up: false, candles: jpyCandles, slots: 127, grid: [21, 45, 69, 93], labels: { 39: '09-23 23:00' }, min: 147.15, max: 150.269, ticks: [150, 149, 148], digits: 3, pad: 21, bw: 5, ww: 1.6, badge: [2900, 1422] },
];

function CircleBox({ x, y, size, children }: any) {
  return <svg width={size} height={size} viewBox="0 0 40 40" style={{ position: 'absolute', left: x, top: y, display: 'block' }}>{children}</svg>;
}
function UsFlag() {
  const rows = [0, 6, 12, 18, 24, 30, 36];
  return <g>
    <clipPath id="usc"><circle cx="20" cy="20" r="20" /></clipPath>
    <g clipPath="url(#usc)">
      <rect width="40" height="40" fill="#fff" />
      {rows.map(v => <rect key={v} x="0" y={v} width="40" height="3" fill="#c8102e" />)}
      <rect width="20" height="20" fill="#3c3b6e" opacity="0.85" />
    </g>
  </g>;
}
function Icon({ kind, x, y }: any) {
  if (kind === 'us') return <CircleBox x={x} y={y} size={40}><UsFlag /></CircleBox>;
  if (kind === 'gold') return <CircleBox x={x} y={y} size={40}><circle cx="20" cy="20" r="20" fill="#f0bc42" /><rect x="16" y="11" width="8" height="7" rx="1" fill="#fff" /><rect x="10" y="21" width="8" height="7" rx="1" fill="#fff" /><rect x="22" y="21" width="8" height="7" rx="1" fill="#fff" /></CircleBox>;
  if (kind === 'silver') return <CircleBox x={x} y={y} size={40}><circle cx="20" cy="20" r="20" fill="#6290e3" /><path d="M20 8 L32 20 L20 32 L8 20 Z" fill="#fff" opacity="0.9" /><path d="M14 14 L26 26 M20 11 L29 20 M11 20 L20 29" stroke="#6290e3" strokeWidth="1.5" /></CircleBox>;
  if (kind === 'oil') return <CircleBox x={x} y={y} size={40}><circle cx="20" cy="20" r="20" fill="#2ea7cb" /><rect x="9" y="9" width="22" height="22" rx="5" fill="#fff" /><path d="M20 14 C23 18 24 20 24 22 A4 4 0 0 1 16 22 C16 20 17 18 20 14 Z" fill="#2ea7cb" /></CircleBox>;
  const sec = kind === 'jpy'
    ? <circle cx="20" cy="20" r="11" fill="#bc002d" />
    : null;
  return <>
    <div style={{ position: 'absolute', left: x + 14, top: y, width: 27, height: 27, borderRadius: '50%', overflow: 'hidden', background: '#fff', opacity: kind === 'jpy' ? 1 : 0.75 }}>
      <svg width={27} height={27} viewBox="0 0 40 40" style={{ display: 'block' }}>{kind === 'jpy' ? sec : <UsFlag />}</svg>
    </div>
    <div style={{ position: 'absolute', left: x, top: y + 13, width: 28, height: 28, borderRadius: '50%', overflow: 'hidden', background: '#fff' }}>
      <svg width={28} height={28} viewBox="0 0 40 40" style={{ display: 'block' }}>
        {kind === 'eur' && <><circle cx="20" cy="20" r="20" fill="#003399" /><circle cx="20" cy="20" r="11" fill="none" stroke="#ffcc00" strokeWidth="2.5" strokeDasharray="2 4" /></>}
        {kind === 'gbp' && <><circle cx="20" cy="20" r="20" fill="#012169" /><path d="M0 0 L40 40 M40 0 L0 40" stroke="#fff" strokeWidth="6" /><rect x="0" y="14" width="40" height="12" fill="#fff" /><rect x="14" y="0" width="12" height="40" fill="#fff" /><rect x="0" y="16" width="40" height="8" fill="#c8102e" /><rect x="16" y="0" width="8" height="40" fill="#c8102e" /></>}
        {kind === 'jpy' && <UsFlag />}
      </svg>
    </div>
  </>;
}

function Panel({ p }: any) {
  const ref = useRef<HTMLCanvasElement>(null);
  const col = COLS[p.c];
  const row = ROWS[p.r];
  const H = row.bottom - row.top;
  const axisH = H - row.plot;
  useEffect(() => {
    const labels = Array.from({ length: p.slots }, (_, i) => p.labels[i] ?? '');
    const last = p.candles[p.candles.length - 1];
    const price = last[3];
    const colors = p.candles.map((k: number[]) => (k[3] >= k[0] ? UP : DOWN));
    const mainColor = p.up ? UP : DOWN;
    const grid = new Set(p.grid);
    const overlay = {
      id: 'overlay',
      beforeDatasetsDraw(chart: any) {
        const { ctx, chartArea, scales } = chart;
        const y = scales.y.getPixelForValue(price);
        ctx.save();
        ctx.strokeStyle = mainColor;
        ctx.lineWidth = 1.5;
        ctx.setLineDash([2, 3.6]);
        ctx.beginPath();
        ctx.moveTo(chartArea.left + 2, y);
        ctx.lineTo(chartArea.right, y);
        ctx.stroke();
        ctx.restore();
      },
      afterDatasetsDraw(chart: any) {
        const { ctx, chartArea, scales, width, height } = chart;
        const y = scales.y.getPixelForValue(price);
        ctx.save();
        ctx.fillStyle = '#fff';
        ctx.fillRect(0, chartArea.bottom, width, height - chartArea.bottom);
        const left = chartArea.right;
        const w = width - left;
        ctx.fillStyle = mainColor;
        ctx.fillRect(left, y - 21, w, 84);
        ctx.fillStyle = 'rgba(255,255,255,0.2)';
        ctx.fillRect(left, y + 21, w, 1);
        ctx.textAlign = 'center';
        ctx.textBaseline = 'middle';
        ctx.font = `24px ${FONT}`;
        ctx.fillStyle = '#fff';
        ctx.fillText(price.toFixed(p.digits), left + w / 2, y + 1);
        ctx.fillStyle = 'rgba(255,255,255,0.72)';
        ctx.fillText('00:00:00', left + w / 2, y + 43);
        ctx.restore();
      },
    };
    const chart = new Chart(ref.current as HTMLCanvasElement, {
      type: 'bar',
      data: {
        labels,
        datasets: [
          { data: p.candles.map((k: number[]) => [k[0], k[3]]), backgroundColor: colors, barThickness: p.bw, grouped: false, borderWidth: 0 },
          { data: p.candles.map((k: number[]) => [k[2], k[1]]), backgroundColor: colors, barThickness: p.ww, grouped: false, borderWidth: 0 },
        ],
      },
      options: {
        responsive: false,
        animation: false,
        devicePixelRatio: 1,
        events: [],
        layout: { padding: 0 },
        plugins: { legend: { display: false }, tooltip: { enabled: false } },
        scales: {
          x: {
            type: 'category',
            offset: true,
            grid: { offset: false, drawTicks: false, lineWidth: 1.5, color: (c: any) => (grid.has(c.index) ? '#e2e5ed' : 'rgba(0,0,0,0)') },
            border: { display: true, color: LINE, width: 2, dash: [10, 10], z: 1 },
            ticks: { autoSkip: false, maxRotation: 0, minRotation: 0, color: INK, padding: 16, z: 1, font: { family: FONT, size: 23.5 } },
            afterFit: (s: any) => { s.height = axisH; s.paddingLeft = 0; s.paddingRight = 0; },
          },
          y: {
            position: 'right',
            min: p.min,
            max: p.max,
            grid: { display: false, drawTicks: false },
            border: { display: true, color: LINE, width: 2, z: 1 },
            ticks: { crossAlign: 'near', padding: p.pad, color: INK, font: { family: FONT, size: 23.5 }, callback: (v: any) => Number(v).toFixed(p.digits) },
            afterBuildTicks: (s: any) => { s.ticks = p.ticks.map((value: number) => ({ value })); },
            afterFit: (s: any) => { s.width = col.axis; s.paddingTop = 0; s.paddingBottom = 0; },
          },
        },
      } as any,
      plugins: [overlay],
    });
    return () => chart.destroy();
  }, []);
  const rowTop = row.top;
  const lx = col.x + [19, 21, 21][p.c];
  const mc = p.up ? UP : DOWN;
  const names = ['开', '高', '低', '收'];
  return <>
    <div style={{ position: 'absolute', left: col.x, top: Math.max(rowTop, 0), width: col.w, height: row.bottom - Math.max(rowTop, 0), background: '#fff' }} />
    <div style={{ position: 'absolute', left: col.x, top: rowTop, width: col.w - col.axis, height: row.plot, overflow: 'hidden' }}>
      {p.wm.map((t: string, i: number) => <div key={i} style={{ position: 'absolute', left: 0, right: 0, top: p.wmY[i] - rowTop - p.wmSize * 0.7, height: p.wmSize * 1.4, lineHeight: `${p.wmSize * 1.4}px`, textAlign: 'center', fontFamily: 'Roboto, "Noto Sans CJK SC", sans-serif', fontSize: p.wmSize, color: '#e8e9ec', whiteSpace: 'nowrap' }}>{t}</div>)}
    </div>
    <canvas ref={ref} width={col.w} height={H} style={{ position: 'absolute', left: col.x, top: rowTop, width: col.w, height: H, display: 'block' }} />
    <div style={{ position: 'absolute', left: col.x + [63, 66, 65][p.c], top: rowTop + 8, height: 38, lineHeight: '38px', fontFamily: FONT, fontSize: 29, color: INK, whiteSpace: 'nowrap', background: '#fff' }}>{p.title}</div>
    <Icon kind={p.icon} x={col.x + [14, 16, 17][p.c]} y={rowTop + 8} />
    <div style={{ position: 'absolute', left: p.pill, top: rowTop + 10, width: 56, height: 36, borderRadius: 14, background: p.tag ? '#d9f0eb' : '#f0f1f9' }}>
      <div style={{ position: 'absolute', left: p.tag ? 21 : 18, top: p.tag ? 11 : 13, width: p.tag ? 14 : 20, height: p.tag ? 14 : 10, borderRadius: p.tag ? '50%' : 4, background: p.tag ? DOWN : '#9b9b9b' }} />
    </div>
    <div style={{ position: 'absolute', left: lx, top: rowTop + 54, height: 28, lineHeight: '28px', fontFamily: FONT, fontSize: 27, color: INK, whiteSpace: 'nowrap', background: 'rgba(255,255,255,0.6)' }}>
      {names.map((n, i) => <span key={n} style={{ marginRight: 16 }}>{n}=<span style={{ color: mc }}>{p.vals[i]}</span></span>)}
      <span style={{ color: mc }}>{p.chg}</span>
    </div>
    <div style={{ position: 'absolute', left: p.badge[0] - 20, top: p.badge[1] - 20, width: 40, height: 40, borderRadius: '50%', background: LINE, textAlign: 'center', lineHeight: '40px', fontFamily: FONT, fontSize: 26, color: INK }}>A</div>
  </>;
}

export default function App() {
  return (
    <div style={{ position: 'fixed', left: 0, top: 0, width: 2952, height: 1454, overflow: 'hidden', background: LINE }}>
      {panels.map((p, i) => <Panel key={i} p={p} />)}
      <div style={{ position: 'absolute', left: 0, top: 0, width: 977, height: 475, boxSizing: 'border-box', borderLeft: '3px solid #f7734a', borderRight: '3px solid #f7734a', borderBottom: '4px solid #f7734a', pointerEvents: 'none' }} />
      <div style={{ position: 'absolute', left: 18, top: 1318, fontFamily: '"Open Sans", sans-serif', fontWeight: 700, fontSize: 41, lineHeight: '60px', color: '#b4b4b4', letterSpacing: -1 }}>TradingHero</div>
      <div style={{ position: 'absolute', left: 2676, top: 1408, fontFamily: `"Open Sans", ${TXT}, sans-serif`, fontWeight: 700, fontSize: 40, lineHeight: '50px', color: 'rgba(90,90,90,0.75)', whiteSpace: 'nowrap' }}>飞机@okokMT</div>
    </div>
  );
}
